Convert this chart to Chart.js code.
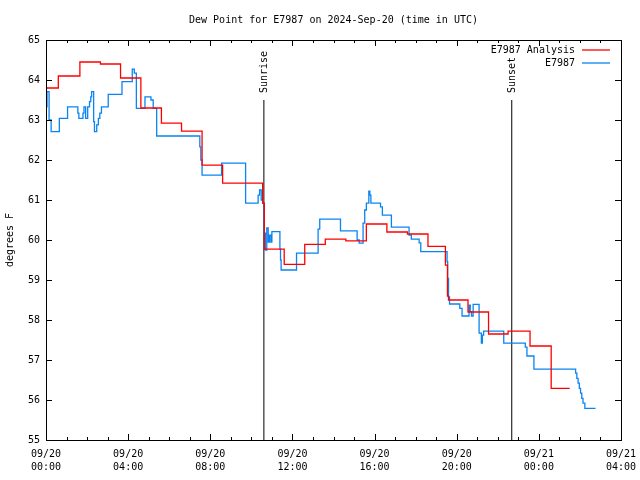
<!DOCTYPE html>
<html>
<head>
<meta charset="utf-8">
<script src="https://cdn.jsdelivr.net/npm/chart.js@4/dist/chart.umd.min.js"></script>
<style>
  html, body { margin: 0; padding: 0; background: #fff; }
  #wrap { width: 640px; height: 480px; }
</style>
</head>
<body>
<div id="wrap"><canvas id="chart" width="640" height="480"></canvas></div>
<script>
// hours since 09/20 00:00 UTC, dew point in F
const redTime = [0, 0.6, 1.65, 2.65, 3.63, 4.62, 5.62, 6.6, 7.6, 8.6, 10.55, 10.63, 11.6, 12.6, 13.6, 14.6, 15.6, 16.6, 17.6, 18.6, 19.45, 19.55, 19.6, 20.55, 21.55, 22.5, 23.57, 24.6, 25.5];
const redDew  = [63.8, 64.1, 64.45, 64.4, 64.05, 63.3, 62.92, 62.72, 61.87, 61.42, 60.92, 59.77, 59.39, 59.89, 60.02, 59.98, 60.4, 60.2, 60.15, 59.84, 59.37, 58.6, 58.5, 58.2, 57.65, 57.72, 57.35, 56.29, 56.29];

const obsTime = [0, 0.05, 0.15, 0.25, 0.65, 1.05, 1.55, 1.6, 1.8, 1.85, 1.93, 2.03, 2.12, 2.18, 2.22, 2.32, 2.36, 2.47, 2.55, 2.62, 2.7, 3.03, 3.7, 4.2, 4.3, 4.4, 4.82, 5.11, 5.22, 5.39,
  7.49, 7.54, 7.6, 8.55, 9.72, 10.33, 10.4, 10.48, 10.55, 10.62, 10.68, 10.75, 10.82, 10.88, 10.95, 11.0, 11.39, 11.42, 11.45, 12.2, 13.25, 13.33, 14.34, 15.15, 15.25,
  15.44, 15.52, 15.6, 15.72, 15.77, 15.82, 16.29, 16.38, 16.82, 17.68, 17.79, 18.17, 18.25, 19.53, 19.56, 19.6, 19.65, 19.69, 20.15, 20.26, 20.6, 20.66, 20.72, 20.8,
  21.09, 21.2, 21.25, 21.31, 22.29, 23.34, 23.42, 23.76, 25.79, 25.85, 25.91, 25.97, 26.03, 26.09, 26.15, 26.24, 26.76];
const obsDew  = [63.33, 63.71, 63.0, 62.71, 63.04, 63.33, 63.17, 63.04, 63.17, 63.33, 63.04, 63.33, 63.46, 63.58, 63.71, 62.96, 62.71, 62.88, 63.04, 63.17, 63.33, 63.64, 63.96, 64.27, 64.17, 63.29, 63.58, 63.5, 63.29, 62.6,
  62.33, 62.0, 61.62, 61.92, 60.92, 61.12, 61.25, 61.0, 60.92, 60.17, 59.75, 60.3, 59.95, 60.12, 59.95, 60.21, 59.77, 59.5, 59.25, 59.67, 60.27, 60.52, 60.23, 60.0, 59.92,
  60.42, 60.75, 60.92, 61.22, 61.12, 60.92, 60.83, 60.62, 60.32, 60.12, 60.02, 59.93, 59.71, 59.46, 59.04, 58.58, 58.4, 58.4, 58.29, 58.1, 58.37, 58.21, 58.1, 58.39,
  57.67, 57.42, 57.62, 57.72, 57.42, 57.32, 57.1, 56.77, 56.67, 56.54, 56.42, 56.29, 56.17, 56.04, 55.92, 55.79, 55.79];

const sunTime = [10.61, 22.68];
const sunName = ['Sunrise', 'Sunset'];
const sunTop = 63.5;

const TITLE = 'Dew Point for E7987 on 2024-Sep-20 (time in UTC)';
const FONT = 'DejaVu Sans Mono';
const pts = (xs, ys) => xs.map((t, i) => ({ x: t, y: ys[i] }));

Chart.defaults.font.family = FONT;
Chart.defaults.font.size = 10;
Chart.defaults.color = '#000';

const frame = {
  id: 'frame',
  afterDraw(chart) {
    const { ctx, chartArea: a, scales: { x, y } } = chart;
    ctx.save();
    ctx.strokeStyle = '#000';
    ctx.lineWidth = 1;
    ctx.strokeRect(Math.round(a.left) + 0.5, Math.round(a.top) + 0.5, Math.round(a.right - a.left), Math.round(a.bottom - a.top));
    ctx.beginPath();
    for (let h = 0; h <= 28; h++) {
      const px = Math.round(x.getPixelForValue(h)) + 0.5;
      const len = h % 4 === 0 ? 6 : 3;
      ctx.moveTo(px, a.bottom); ctx.lineTo(px, a.bottom - len);
      ctx.moveTo(px, a.top); ctx.lineTo(px, a.top + len);
    }
    for (let v = 55; v <= 65; v++) {
      const py = Math.round(y.getPixelForValue(v)) + 0.5;
      ctx.moveTo(a.left, py); ctx.lineTo(a.left + 6, py);
      ctx.moveTo(a.right, py); ctx.lineTo(a.right - 6, py);
    }
    ctx.stroke();

    ctx.font = '10px ' + FONT;
    ctx.fillStyle = '#000';

    // title, centred over the plot
    ctx.textAlign = 'center';
    ctx.textBaseline = 'middle';
    ctx.fillText(TITLE, (a.left + a.right) / 2, 20);

    // sunrise / sunset labels
    sunTime.forEach((t, i) => {
      ctx.save();
      ctx.translate(x.getPixelForValue(t) + 1, y.getPixelForValue(sunTop) - 7);
      ctx.rotate(-Math.PI / 2);
      ctx.textAlign = 'left';
      ctx.textBaseline = 'middle';
      ctx.fillText(sunName[i], 0, 0);
      ctx.restore();
    });

    // legend, gnuplot style: text then sample line
    const items = chart.data.datasets.filter(d => d.legend);
    items.forEach((d, i) => {
      const ly = a.top + 10 + i * 13;
      ctx.textAlign = 'right';
      ctx.textBaseline = 'middle';
      ctx.fillText(d.label, a.right - 46, ly);
      ctx.strokeStyle = d.borderColor;
      ctx.lineWidth = 1.3;
      ctx.beginPath();
      ctx.moveTo(a.right - 39, ly); ctx.lineTo(a.right - 11, ly);
      ctx.stroke();
    });
    ctx.restore();
  }
};

const sunSets = sunTime.map(t => ({
  label: 'sun', legend: false,
  data: [{ x: t, y: 55 }, { x: t, y: sunTop }],
  borderColor: '#000', borderWidth: 1, pointRadius: 0
}));

new Chart(document.getElementById('chart'), {
  type: 'line',
  data: {
    datasets: [
      { label: 'E7987 Analysis', legend: true, data: pts(redTime, redDew), borderColor: '#ff0000', borderWidth: 1.3, pointRadius: 0, stepped: true },
      { label: 'E7987', legend: true, data: pts(obsTime, obsDew), borderColor: '#0a84f0', borderWidth: 1.3, pointRadius: 0, stepped: true },
      ...sunSets
    ]
  },
  options: {
    responsive: false,
    animation: false,
    devicePixelRatio: 1,
    layout: { padding: { left: 0, right: 19, top: 40, bottom: 0 } },
    plugins: {
      legend: { display: false },
      tooltip: { enabled: false },
      title: { display: false }
    },
    scales: {
      x: {
        type: 'linear', min: 0, max: 28,
        grid: { display: false, drawTicks: false },
        border: { display: false },
        afterFit: s => { s.height = 40; s.paddingLeft = 0; s.paddingRight = 0; },
        ticks: {
          stepSize: 4, padding: 8, maxRotation: 0, autoSkip: false,
          font: { family: FONT, size: 10, lineHeight: 1.3 },
          callback: v => {
            const day = v < 24 ? '09/20' : '09/21';
            const hh = String(v % 24).padStart(2, '0');
            return [day, hh + ':00'];
          }
        }
      },
      y: {
        min: 55, max: 65,
        grid: { display: false, drawTicks: false },
        border: { display: false },
        afterFit: s => { s.width = 46; },
        title: { display: true, text: 'degrees F', font: { family: FONT, size: 10 }, padding: { top: 4, bottom: 0 } },
        ticks: { stepSize: 1, padding: 6, font: { family: FONT, size: 10 } }
      }
    }
  },
  plugins: [frame]
});
</script>
</body>
</html>
